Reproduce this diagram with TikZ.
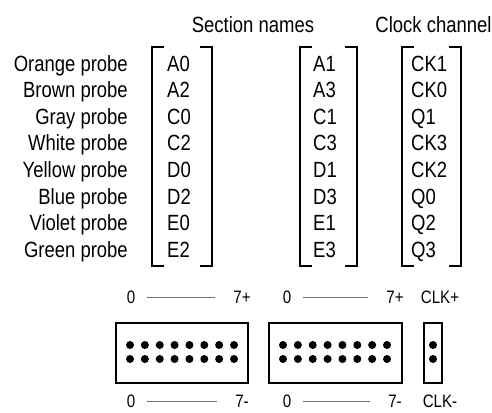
\documentclass[tikz,border=0pt]{standalone}
\usepackage{fontspec}
\setmainfont{Liberation Sans}[FakeStretch=0.84]
\begin{document}
\begin{tikzpicture}[x=1pt, y=-1pt,
    every node/.style={inner sep=0pt},
    lbl/.style={font=\fontsize{22}{26}\selectfont},
    pinlbl/.style={font=\fontsize{18}{20}\selectfont},
    brk/.style={draw, line width=1.5pt},
    connbox/.style={draw, line width=1.6pt, minimum height=60pt},
    span/.style={draw=black!55, line width=0.9pt, shorten <=11.5pt, shorten >=18pt}]
    \useasboundingbox (0,0) rectangle (492,412);
    % headings
    \node[lbl, anchor=base] (secnames) at (253,33) {Section names};
    \node[lbl, anchor=base] (clkchan) at (433.5,33) {Clock channel};
    % probe colours and channel names
    \foreach \name [count=\i] in {Orange,Brown,Gray,White,Yellow,Blue,Violet,Green}
        \node[lbl, anchor=base east] (probe\i) at (128,{71+26.6*(\i-1)}) {\name\ probe};
    \foreach \a/\b/\c [count=\i] in {A0/A1/CK1, A2/A3/CK0, C0/C1/Q1, C2/C3/CK3,
                                     D0/D1/CK2, D2/D3/Q0, E0/E1/Q2, E2/E3/Q3} {
        \node[lbl, anchor=base west] (lo\i) at (167,{71+26.6*(\i-1)}) {\a};
        \node[lbl, anchor=base west] (hi\i) at (313,{71+26.6*(\i-1)}) {\b};
        \node[lbl, anchor=base west] (ck\i) at (411,{71+26.6*(\i-1)}) {\c};
    }
    % brackets
    \foreach \l/\r in {152/212, 300/357, 402/461} {
        \draw[brk] (\l+12,47) -- (\l,47) -- (\l,266) -- (\l+12,266);
        \draw[brk] (\r-12,47) -- (\r,47) -- (\r,266) -- (\r-12,266);
    }
    % pin numbering
    \node[pinlbl] (zeroA) at (131,297) {0};
    \node[pinlbl] (sevenA) at (242,297) {7+};
    \node[pinlbl] (zeroB) at (287,297) {0};
    \node[pinlbl] (sevenB) at (395,297) {7+};
    \node[pinlbl] (clkp) at (440,297) {CLK+};
    \node[pinlbl] (zeroC) at (131,401) {0};
    \node[pinlbl] (sevenC) at (242,401) {7-};
    \node[pinlbl] (zeroD) at (287,401) {0};
    \node[pinlbl] (sevenD) at (395,401) {7-};
    \node[pinlbl] (clkm) at (440,401) {CLK-};
    \draw[span] (zeroA.east) -- (zeroA.east -| sevenA.west);
    \draw[span] (zeroB.east) -- (zeroB.east -| sevenB.west);
    \draw[span] (zeroC.east) -- (zeroC.east -| sevenC.west);
    \draw[span] (zeroD.east) -- (zeroD.east -| sevenD.west);
    % connectors
    \node[connbox, minimum width=132pt] (hdrA) at (182,353) {};
    \node[connbox, minimum width=133pt] (hdrB) at (335.5,353) {};
    \node[connbox, minimum width=18pt] (hdrC) at (433,353) {};
    \foreach \i in {0,...,7}
        \foreach \y in {345,359} {
            \fill (130+14.86*\i,\y) circle (4pt);
            \fill (283+14.86*\i,\y) circle (4pt);
        }
    \foreach \y in {345,359}
        \fill (433,\y) circle (4pt);
\end{tikzpicture}
\end{document}
